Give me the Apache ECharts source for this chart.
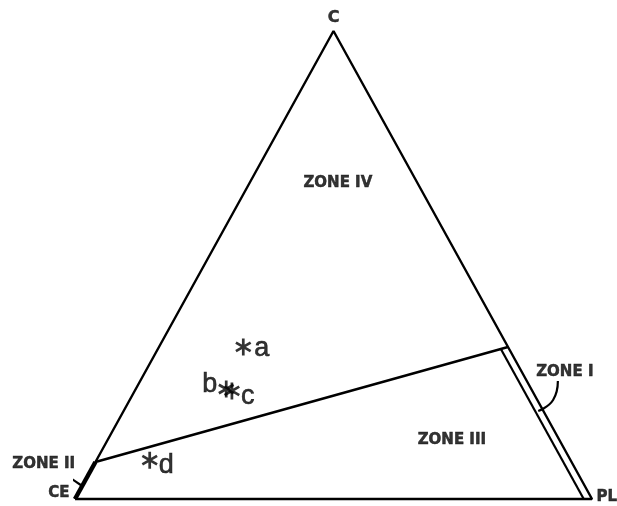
<!DOCTYPE html>
<html>
<head>
<meta charset="utf-8">
<script src="https://cdn.jsdelivr.net/npm/echarts@6/dist/echarts.min.js"></script>
<style>
  html, body { margin: 0; padding: 0; background: #fff; }
  #chart { width: 617px; height: 506px; }
</style>
</head>
<body>
<div id="chart"></div>
<script>
// 三元图: 顶点 C / CE / PL, 组成用 [C, PL] 表示, CE = 1 - C - PL
const vertexNames = ['C', 'CE', 'PL']
const vertexC = [1, 0, 0]
const vertexPL = [0, 0, 1]

// 样品点
const sampleNames = ['a', 'b', 'c', 'd']
const sampleC = [0.325, 0.235, 0.231, 0.083]
const samplePL = [0.163, 0.175, 0.188, 0.103]

// 区域 III / IV 分界线
const boundaryC = [0.079, 0.325]
const boundaryPL = [0, 0.675]

// 区域 I 内线 (CE = 0.016)
const zoneOneC = [0.32, 0]
const zoneOnePL = [0.664, 0.984]

// 区域 II 粗线段 (沿 C-CE 边)
const zoneTwoC = [0, 0.079]
const zoneTwoPL = [0, 0]

// 区域标签
const zoneNames = ['ZONE IV', 'ZONE III', 'ZONE I', 'ZONE II']
const zoneC = [0.675, 0.126, 0.271, 0.075]
const zonePL = [0.171, 0.666, 0.812, -0.098]

// 指引线
const leaderOneC = [0.252, 0.2115, 0.188]
const leaderOnePL = [0.808, 0.819, 0.802]
const leaderTwoC = [0.0556, 0.0278]
const leaderTwoPL = [-0.051, 0]

const H = Math.sqrt(3) / 2
// 三元坐标 -> 直角坐标
function tern(c, pl) {
  return [pl + c / 2, c * H]
}
function toPoints(cs, pls) {
  return cs.map((c, i) => tern(c, pls[i]))
}

// 星号符号: 三根交叉的细条
function asteriskPath() {
  const parts = []
  ;[90, 30, 150].forEach((deg) => {
    const t = (deg * Math.PI) / 180
    const ux = Math.cos(t), uy = Math.sin(t)
    const nx = -uy, ny = ux
    const L = 50, W = 8
    const p = [
      [50 + L * ux + W * nx, 50 + L * uy + W * ny],
      [50 - L * ux + W * nx, 50 - L * uy + W * ny],
      [50 - L * ux - W * nx, 50 - L * uy - W * ny],
      [50 + L * ux - W * nx, 50 + L * uy - W * ny],
    ]
    parts.push('M' + p.map((q) => q[0].toFixed(2) + ' ' + q[1].toFixed(2)).join(' L') + ' Z')
  })
  return 'path://' + parts.join(' ')
}

const black = '#000'
const lineSeries = (data, width, smooth) => ({
  type: 'line',
  data: data,
  symbol: 'none',
  smooth: smooth || false,
  clip: false,
  silent: true,
  lineStyle: { color: black, width: width },
})

// 只显示文字的散点 (点本身透明)
const textStyle = {
  show: true,
  color: black,
  fontFamily: 'DejaVu Sans',
  fontWeight: 'bold',
  fontSize: 15,
  textBorderColor: black,
  textBorderWidth: 0.5,
}
const textSeries = (data) => ({
  type: 'scatter',
  symbol: 'circle',
  symbolSize: 1,
  clip: false,
  silent: true,
  itemStyle: { color: 'rgba(0,0,0,0)' },
  data: data,
})

const chart = echarts.init(document.getElementById('chart'))
// 三角形外框
const outline = [tern(0, 0), tern(0, 1), tern(1, 0), tern(0, 0)]

const sampleLabel = [
  { position: 'right', distance: 3, offset: [0, 2] },
  { position: 'left', distance: 1, offset: [0, -4] },
  { position: 'right', distance: 1, offset: [0, 6] },
  { position: 'right', distance: 1, offset: [0, 5] },
]
const vertexLabel = [
  { position: 'top', distance: 5, fontSize: 16 },
  { position: 'left', distance: 5, offset: [0, -6] },
  { position: 'right', distance: 4, offset: [0, -2] },
]

chart.setOption({
  animation: false,
  backgroundColor: '#fff',
  grid: { left: 75, right: 25, top: 31, bottom: 7 },
  xAxis: { type: 'value', min: 0, max: 1, show: false },
  yAxis: { type: 'value', min: 0, max: H, show: false },
  series: [
    lineSeries(outline, 2.4),
    lineSeries(toPoints(boundaryC, boundaryPL), 2.6),
    lineSeries(toPoints(zoneOneC, zoneOnePL), 2.2),
    lineSeries(toPoints(zoneTwoC, zoneTwoPL), 4.5),
    lineSeries(toPoints(leaderOneC, leaderOnePL), 2.2, true),
    lineSeries(toPoints(leaderTwoC, leaderTwoPL), 2.2),
    {
      // 样品
      type: 'scatter',
      symbol: asteriskPath(),
      symbolSize: 17,
      symbolKeepAspect: true,
      clip: false,
      silent: true,
      itemStyle: { color: black },
      data: sampleNames.map((n, i) => ({
        value: tern(sampleC[i], samplePL[i]),
        name: n,
        label: Object.assign(
          {
            show: true,
            formatter: n,
            color: black,
            fontFamily: 'Liberation Sans',
            fontSize: 27,
            textBorderColor: black,
            textBorderWidth: 0.6,
          },
          sampleLabel[i]
        ),
      })),
    },
    // 顶点标签
    textSeries(
      vertexNames.map((n, i) => ({
        value: tern(vertexC[i], vertexPL[i]),
        label: Object.assign({}, textStyle, { formatter: n }, vertexLabel[i]),
      }))
    ),
    // 区域标签
    textSeries(
      zoneNames.map((n, i) => ({
        value: tern(zoneC[i], zonePL[i]),
        label: Object.assign({}, textStyle, { formatter: n, position: 'inside' }),
      }))
    ),
  ],
})
</script>
</body>
</html>
